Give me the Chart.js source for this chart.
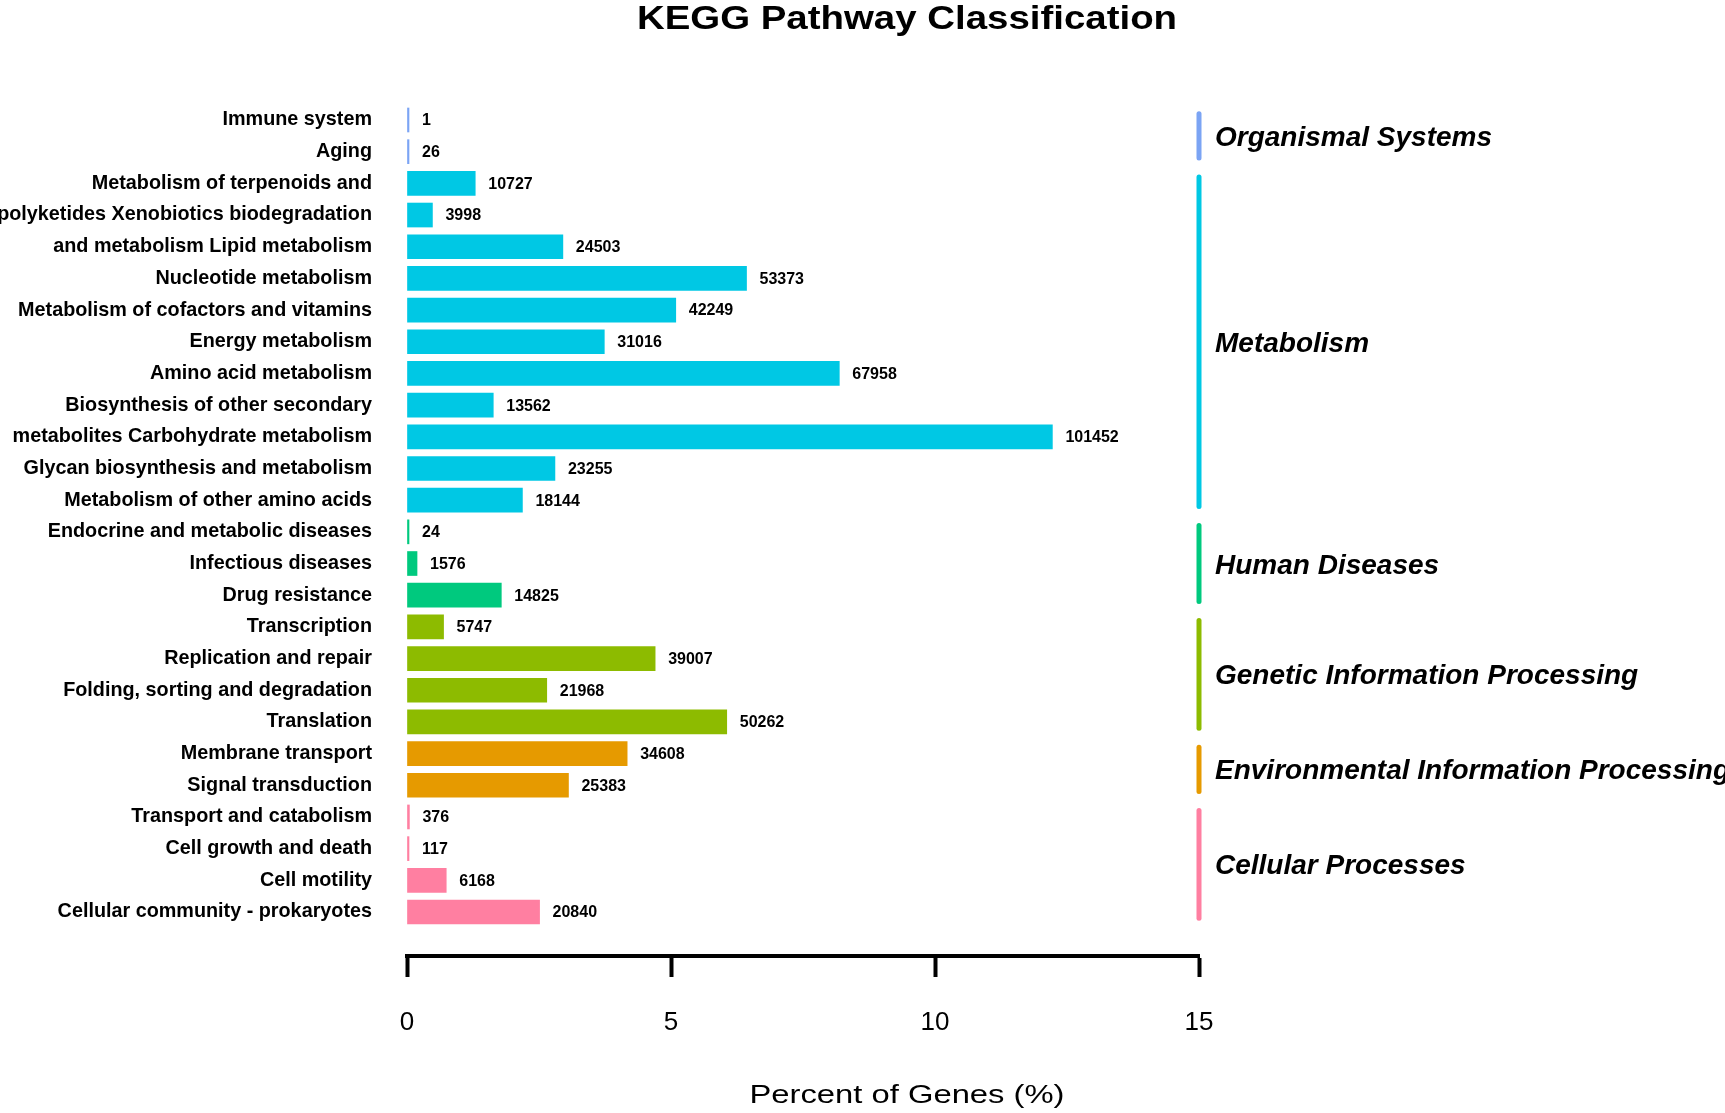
<!DOCTYPE html>
<html>
<head>
<meta charset="utf-8">
<script src="https://cdn.jsdelivr.net/npm/chart.js@4.4.1/dist/chart.umd.min.js"></script>
<style>
  html, body { margin: 0; padding: 0; background: #fff; }
  #wrap { width: 1725px; height: 1113px; }
</style>
</head>
<body>
<div id="wrap"><canvas id="kegg" width="1725" height="1113"></canvas></div>
<script>
// pathway names, top to bottom as in the figure
const pathways = [
  "Immune system",
  "Aging",
  "Metabolism of terpenoids and",
  "polyketides Xenobiotics biodegradation",
  "and metabolism Lipid metabolism",
  "Nucleotide metabolism",
  "Metabolism of cofactors and vitamins",
  "Energy metabolism",
  "Amino acid metabolism",
  "Biosynthesis of other secondary",
  "metabolites Carbohydrate metabolism",
  "Glycan biosynthesis and metabolism",
  "Metabolism of other amino acids",
  "Endocrine and metabolic diseases",
  "Infectious diseases",
  "Drug resistance",
  "Transcription",
  "Replication and repair",
  "Folding, sorting and degradation",
  "Translation",
  "Membrane transport",
  "Signal transduction",
  "Transport and catabolism",
  "Cell growth and death",
  "Cell motility",
  "Cellular community - prokaryotes"
];

// gene counts printed next to each bar
const geneCounts = [
  1, 26, 10727, 3998, 24503, 53373, 42249, 31016, 67958, 13562, 101452, 23255, 18144,
  24, 1576, 14825,
  5747, 39007, 21968, 50262,
  34608, 25383,
  376, 117, 6168, 20840
];

// total annotated genes, percent = count / total
const totalGenes = 830000;

// class groups, rows per group and colours
const groupNames = [
  "Organismal Systems",
  "Metabolism",
  "Human Diseases",
  "Genetic Information Processing",
  "Environmental Information Processing",
  "Cellular Processes"
];
const groupSizes = [2, 11, 3, 4, 2, 4];
const groupColors = ["#7ba4f4", "#00c8e4", "#00c97e", "#8dbb00", "#e69a00", "#ff7fa1"];

const xTicks = [0, 5, 10, 15];

// derived
const percents = geneCounts.map(c => c / totalGenes * 100);
const barColors = [];
groupSizes.forEach((n, g) => { for (let k = 0; k < n; k++) barColors.push(groupColors[g]); });

// y range: half a row above the first bar, extra room under the last one
const yMin = -0.568;
const yMax = 26.389;

const decor = {
  id: 'decor',
  afterDraw(chart) {
    const ctx = chart.ctx;
    const xs = chart.scales.x, ys = chart.scales.y;

    // title
    ctx.save();
    ctx.fillStyle = '#000';
    ctx.font = 'bold 34px "Liberation Sans", Arial, sans-serif';
    ctx.textAlign = 'center';
    ctx.textBaseline = 'alphabetic';
    ctx.translate(907, 29);
    ctx.scale(1.13, 1);
    ctx.fillText('KEGG Pathway Classification', 0, 0);
    ctx.restore();

    // x axis title
    ctx.save();
    ctx.fillStyle = '#000';
    ctx.font = '26px "Liberation Sans", Arial, sans-serif';
    ctx.textAlign = 'center';
    ctx.translate(907, 1103);
    ctx.scale(1.26, 1);
    ctx.fillText('Percent of Genes (%)', 0, 0);
    ctx.restore();

    // counts beside bars
    ctx.save();
    ctx.fillStyle = '#000';
    ctx.font = 'bold 16px "Liberation Sans", Arial, sans-serif';
    ctx.textAlign = 'left';
    ctx.textBaseline = 'middle';
    chart.getDatasetMeta(0).data.forEach((bar, i) => {
      ctx.fillText(String(geneCounts[i]), bar.x + 13, bar.y + 1);
    });
    ctx.restore();

    // group brackets and names
    const bx = xs.getPixelForValue(15);
    let start = 0;
    groupSizes.forEach((n, g) => {
      const y0 = ys.getPixelForValue(start - 0.2);
      const y1 = ys.getPixelForValue(start + n - 1 + 0.2);
      ctx.save();
      ctx.strokeStyle = groupColors[g];
      ctx.lineWidth = 5;
      ctx.lineCap = 'round';
      ctx.beginPath();
      ctx.moveTo(bx, y0);
      ctx.lineTo(bx, y1);
      ctx.stroke();
      ctx.fillStyle = '#000';
      ctx.font = 'italic bold 28px "Liberation Sans", Arial, sans-serif';
      ctx.textAlign = 'left';
      ctx.textBaseline = 'alphabetic';
      ctx.fillText(groupNames[g], bx + 16, (y0 + y1) / 2 + 10);
      ctx.restore();
      start += n;
    });
  }
};

new Chart(document.getElementById('kegg').getContext('2d'), {
  type: 'bar',
  data: {
    datasets: [{
      data: percents.map((p, i) => ({ x: p, y: i })),
      backgroundColor: barColors,
      borderWidth: 0,
      barThickness: 24,
      minBarLength: 2
    }]
  },
  options: {
    indexAxis: 'y',
    responsive: false,
    animation: false,
    layout: { padding: { top: 102, right: 526, bottom: 0, left: 0 } },
    plugins: { legend: { display: false }, tooltip: { enabled: false }, title: { display: false } },
    scales: {
      x: {
        type: 'linear',
        min: 0,
        max: 15,
        afterBuildTicks: s => { s.ticks = xTicks.map(v => ({ value: v })); },
        afterFit: s => { s.height = 157; },
        ticks: {
          color: '#000',
          padding: 30,
          font: { family: '"Liberation Sans", Arial, sans-serif', size: 26 }
        },
        grid: {
          drawOnChartArea: false,
          drawTicks: true,
          tickLength: 21,
          tickWidth: 4,
          tickColor: '#000'
        },
        border: { display: true, color: '#000', width: 4 }
      },
      y: {
        type: 'linear',
        reverse: true,
        offset: false,
        bounds: 'data',
        afterDataLimits: s => { s.min = yMin; s.max = yMax; },
        afterBuildTicks: s => { s.ticks = pathways.map((_, i) => ({ value: i })); },
        afterFit: s => { s.width = 407; s.paddingTop = 0; s.paddingBottom = 0; },
        ticks: {
          autoSkip: false,
          padding: 35,
          color: '#000',
          font: { family: '"Liberation Sans", Arial, sans-serif', size: 19.8, weight: 'bold' },
          callback: v => pathways[v] !== undefined ? pathways[v] : ''
        },
        grid: { display: false, drawTicks: false },
        border: { display: false }
      }
    }
  },
  plugins: [decor]
});
</script>
</body>
</html>
